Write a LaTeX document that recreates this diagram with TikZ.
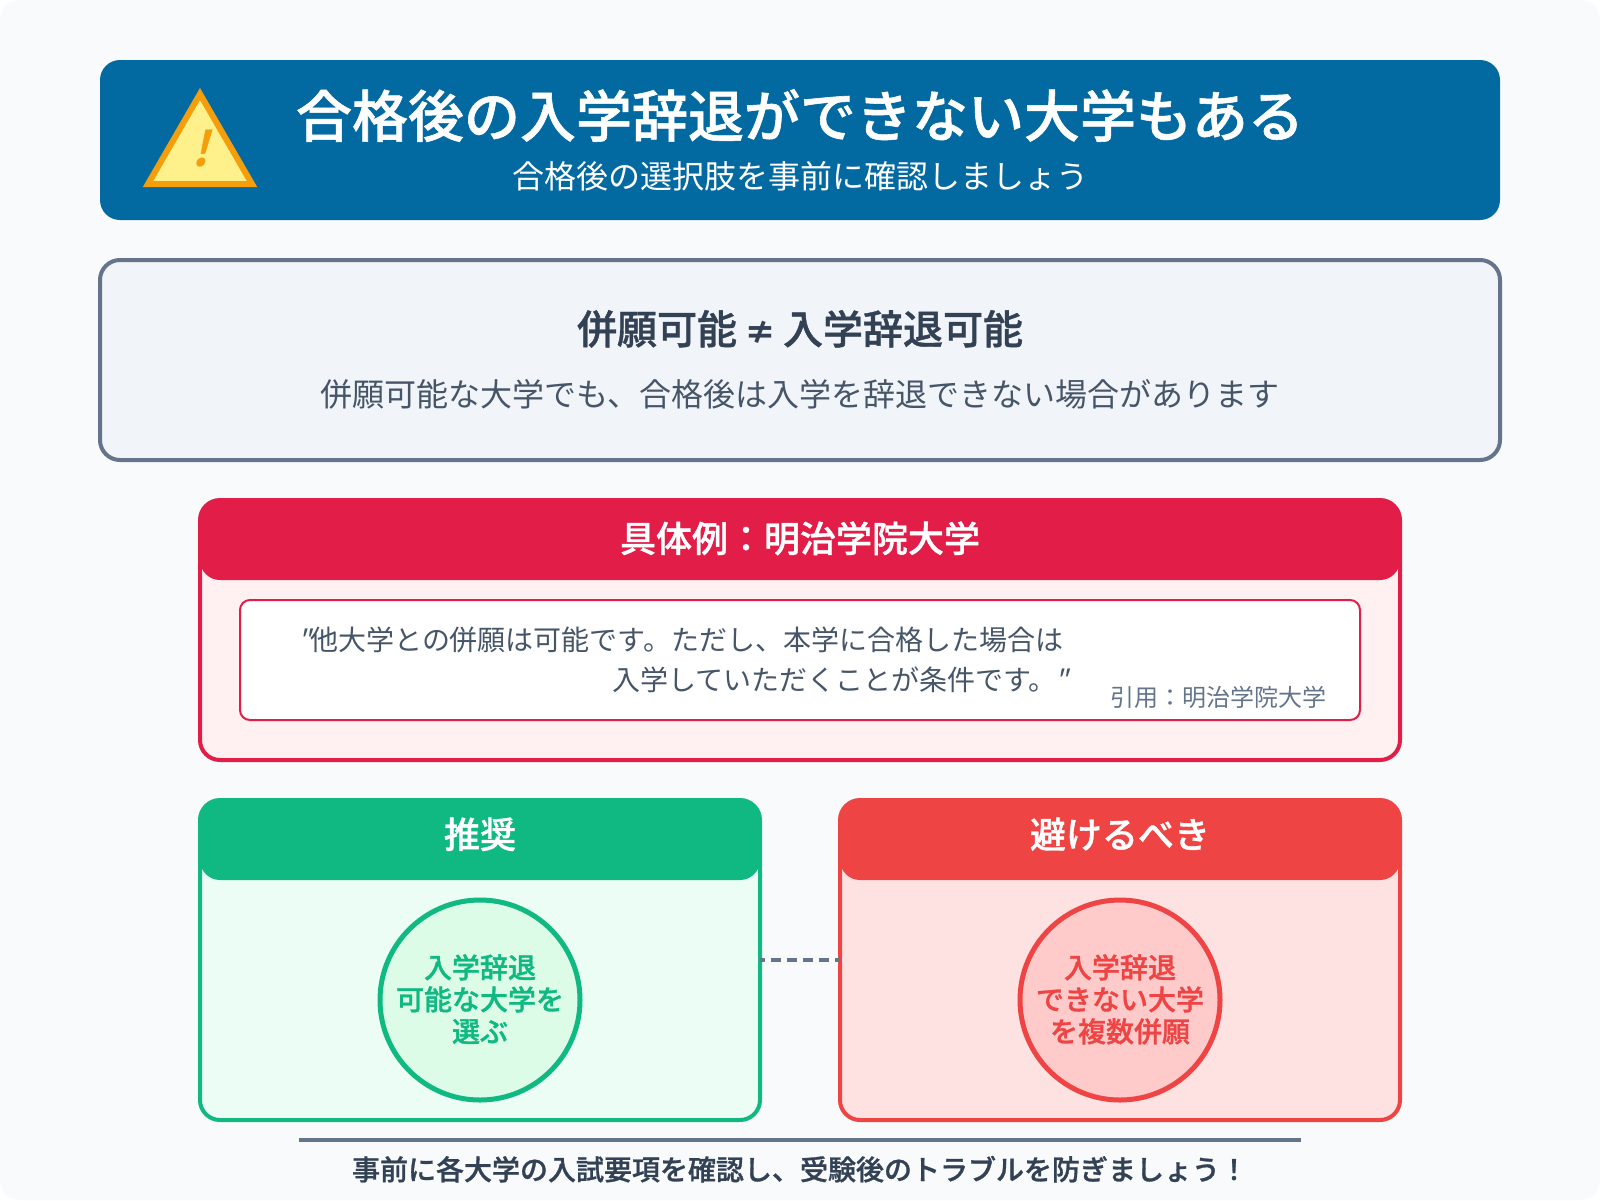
\documentclass[tikz,border=0pt]{standalone}
\usepackage{fontspec}
\setmainfont{Noto Sans CJK JP}[BoldFont={Noto Sans CJK JP Medium},BoldFeatures={FakeBold=1}]
\newfontfamily\slantfont[FakeSlant=0.25]{Noto Sans CJK JP}
\newfontfamily\bangfont[FakeSlant=0.25]{Noto Sans CJK JP Bold}
\newfontfamily\neqfont{Noto Sans CJK JP Bold}
\newcommand{\fs}[1]{\fontsize{#1}{#1}\selectfont}
\definecolor{bgc}{HTML}{F8FAFC}
\definecolor{headc}{HTML}{0369A1}
\definecolor{slatec}{HTML}{64748B}
\definecolor{slatefill}{HTML}{F1F5F9}
\definecolor{darkc}{HTML}{334155}
\definecolor{midc}{HTML}{475569}
\definecolor{rosec}{HTML}{E11D48}
\definecolor{rosefill}{HTML}{FFF1F2}
\definecolor{greenc}{HTML}{10B981}
\definecolor{greenfill}{HTML}{ECFDF5}
\definecolor{greencirc}{HTML}{DCFCE7}
\definecolor{redc}{HTML}{EF4444}
\definecolor{redfill}{HTML}{FEE2E2}
\definecolor{redcirc}{HTML}{FECACA}
\definecolor{triline}{HTML}{F59E0B}
\definecolor{trifill}{HTML}{FEF08A}
\tikzset{
  x=0.5pt,y=-0.5pt,
  txt/.style={inner sep=0pt,outer sep=0pt,anchor=base,align=center},
  panel/.style={line width=2pt,rounded corners=10pt},
  capband/.style={rounded corners=10pt},
  round dot/.style={circle,minimum size=100pt,inner sep=0pt,line width=2.5pt},
}
\begin{document}
\begin{tikzpicture}
\useasboundingbox (0,0) rectangle (1600,1200);
\fill[white] (0,0) rectangle (1600,1200);
\fill[bgc,rounded corners=10pt] (0,0) rectangle (1600,1200);
% header
\fill[headc,rounded corners=10pt] (100,60) rectangle (1500,220);
\draw[triline,fill=trifill,line width=3pt,miter limit=10] (200,94) -- (148,184) -- (252,184) -- cycle;
\node[txt,text=triline] (bang) at (200,166) {\fs{24}\bangfont !};
\node[txt,text=white] (title) at (800,137) {\fs{28}\bfseries 合格後の入学辞退ができない大学もある};
\node[txt,text=white] (subtitle) at (800,188) {\fs{16}合格後の選択肢を事前に確認しましょう};
% concept box
\node[draw=slatec,fill=slatefill,panel,minimum width=700pt,minimum height=100pt,inner sep=0pt] (concept) at (800,360) {};
\node[txt,text=darkc] (ctitle) at (800,344) {\fs{20}\bfseries 併願可能\hspace{3.5pt}{\neqfont\fontsize{16}{16}\selectfont ≠}\hspace{3.5pt}入学辞退可能};
\node[txt,text=midc] (cbody) at (800,406) {\fs{16}併願可能な大学でも、合格後は入学を辞退できない場合があります};
% example
\draw[rosec,fill=rosefill,panel] (200,500) rectangle (1400,760);
\fill[rosec,capband] (200,500) rectangle (1400,580);
\node[txt,text=white] (extitle) at (800,552) {\fs{18}\bfseries 具体例：明治学院大学};
\draw[rosec,fill=white,line width=1pt,rounded corners=5pt] (240,600) rectangle (1360,720);
\node[txt,text=midc,anchor=base west] (q1) at (297,650) {\fs{14}{\slantfont "}他大学との併願は可能です。ただし、本学に合格した場合は};
\node[txt,text=midc,anchor=base east] (q2) at (1068,690) {\fs{14}入学していただくことが条件です。\kern-1pt{\slantfont "}};
\node[txt,text=slatec,anchor=base east] (cite) at (1326,706) {\fs{12}引用：明治学院大学};
% recommended
\draw[greenc,fill=greenfill,panel] (200,800) rectangle (760,1120);
\fill[greenc,capband] (200,800) rectangle (760,880);
\node[txt,text=white] (gtitle) at (480,848) {\fs{18}\bfseries 推奨};
\node[draw=greenc,fill=greencirc,round dot] (gcirc) at (480,1000) {};
\node[txt,text=greenc] (g1) at (480,978) {\fs{14}\bfseries 入学辞退};
\node[txt,text=greenc] (g2) at (480,1010) {\fs{14}\bfseries 可能な大学を};
\node[txt,text=greenc] (g3) at (480,1042) {\fs{14}\bfseries 選ぶ};
% avoid
\draw[redc,fill=redfill,panel] (840,800) rectangle (1400,1120);
\fill[redc,capband] (840,800) rectangle (1400,880);
\node[txt,text=white] (rtitle) at (1120,848) {\fs{18}\bfseries 避けるべき};
\node[draw=redc,fill=redcirc,round dot] (rcirc) at (1120,1000) {};
\node[txt,text=redc] (r1) at (1120,978) {\fs{14}\bfseries 入学辞退};
\node[txt,text=redc] (r2) at (1120,1010) {\fs{14}\bfseries できない大学};
\node[txt,text=redc] (r3) at (1120,1042) {\fs{14}\bfseries を複数併願};
% connector
\coordinate (dl) at (760,960);
\coordinate (dr) at (840,960);
\draw[slatec,line width=2pt,dash pattern=on 5pt off 3pt,dash phase=2.5pt] (dl) -- (dr);
% footer
\coordinate (fl) at (299,1140);
\coordinate (fr) at (1301,1140);
\draw[slatec,line width=2pt] (fl) -- (fr);
\node[txt,text=darkc] (foot) at (800,1180) {\fs{14}\bfseries 事前に各大学の入試要項を確認し、受験後のトラブルを防ぎましょう！};
\end{tikzpicture}
\end{document}
